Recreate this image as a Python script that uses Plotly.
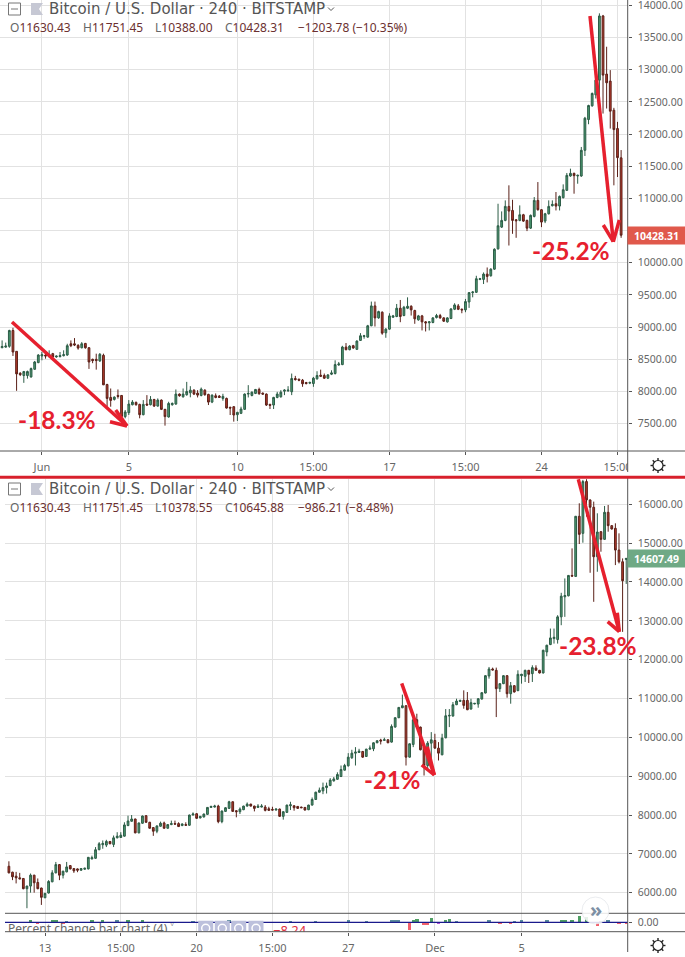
import math
import plotly.graph_objects as go

W, H = 685, 957

# ---- data ----
top_open = [8680,8690,8702,8948,8624,8284,8248,8248,8227,8346,
8449,8552,8567,8550,8588,8537,8542,8557,8567,8742,
8742,8717,8680,8747,8680,8500,8500,8475,8562,8109,
7908,7877,7939,7939,7610,7671,7795,7831,7800,7640,
7805,7795,7877,7774,7867,7723,7604,7795,7805,7960,
7918,7950,7980,8021,7975,7939,8021,7955,7836,7934,
7929,7893,7893,7754,7764,7640,7661,7723,7960,7939,
7970,8032,7975,7960,7800,7790,7908,7918,8006,8011,
7996,8202,8191,8176,8140,8130,8124,8197,8253,8248,
8207,8269,8279,8413,8418,8691,8650,8712,8655,8794,
8856,8845,9021,9330,9144,9232,8912,8969,9154,9165,
9294,9180,9294,9324,9258,9113,9175,9082,9067,9072,
9149,9180,9144,9082,9134,9278,9330,9278,9268,9391,
9536,9541,9742,9742,9824,9798,9901,10216,10554,10658,
10876,10813,10668,10658,10746,10658,10538,10720,10969,10824,
10647,10761,10886,10917,10881,11011,11125,11348,11389,11348,
11348,11747,12225,12438,12609,12837,13834,12931,12822,12370,
12085,11630]
top_high = [8794,8760,8960,8990,8624,8300,8320,8325,8372,8475,
8580,8614,8614,8640,8600,8560,8614,8640,8742,8794,
8830,8735,8768,8755,8690,8510,8588,8598,8588,8120,
8047,7925,8032,7945,7712,7867,7867,7845,7810,7867,
7944,7929,7885,7893,7877,7730,7841,7830,8032,7970,
8047,8150,8083,8035,8021,8062,8035,7965,7955,7970,
7945,7965,7905,7765,7775,7685,7764,7970,8099,8000,
8040,8060,7985,7970,7810,7918,7995,8021,8035,8083,
8279,8243,8200,8195,8150,8155,8227,8315,8340,8279,
8270,8330,8485,8459,8710,8753,8720,8725,8795,8907,
8880,9035,9397,9397,9255,9245,8985,9216,9190,9360,
9422,9330,9463,9340,9270,9190,9190,9095,9095,9155,
9206,9206,9155,9155,9295,9371,9360,9290,9438,9545,
9560,9798,9765,9850,9927,9915,10225,10917,10798,10969,
11203,10979,10680,10891,10760,10670,10750,11021,11254,10835,
10775,10969,10969,11099,11045,11218,11395,11462,11400,11370,
11799,12266,12455,12645,12931,13875,13850,13356,12993,12407,
12189,11751]
top_low = [8675,8680,8680,8552,8011,8240,8135,8200,8215,8335,
8440,8485,8510,8530,8495,8525,8530,8545,8555,8690,
8706,8650,8670,8665,8351,8440,8340,8460,8100,7764,
7764,7860,7890,7481,7584,7635,7785,7780,7584,7630,
7780,7785,7760,7765,7712,7470,7595,7780,7795,7920,
7905,7935,7910,7945,7908,7925,7935,7790,7820,7895,
7900,7857,7735,7635,7532,7542,7650,7715,7908,7925,
7960,7950,7950,7775,7728,7728,7895,7905,7944,7995,
7944,8170,8160,8073,8110,8115,8073,8185,8225,8195,
8195,8255,8265,8400,8410,8640,8640,8665,8645,8785,
8820,8835,9015,9010,9130,8882,8835,8960,9145,9155,
9077,9170,9280,9180,9052,9100,8949,8933,8949,9060,
9135,9130,9080,9070,9125,9265,9265,9216,9232,9299,
9463,9530,9730,9670,9695,9785,9890,10205,10540,10645,
10268,10450,10388,10645,10635,10492,10525,10705,10810,10554,
10616,10750,10875,10813,10813,11000,11115,11335,11073,11228,
11335,11659,12152,12425,12552,12422,12318,12396,12085,11203,
11332,10388]
top_close = [8700,8706,8948,8614,8274,8263,8310,8310,8356,8459,
8567,8572,8552,8572,8536,8550,8557,8572,8712,8712,
8722,8675,8742,8680,8459,8480,8480,8578,8104,7893,
7862,7913,7924,7610,7682,7805,7836,7795,7640,7800,
7790,7877,7774,7867,7723,7610,7815,7815,7960,7934,
7960,8001,8021,7960,7944,8037,7950,7836,7944,7908,
7908,7924,7743,7743,7635,7676,7728,7960,7970,7990,
8032,7965,7960,7790,7785,7908,7960,7990,8021,8021,
8202,8186,8176,8120,8124,8140,8207,8248,8238,8207,
8258,8289,8418,8428,8691,8650,8706,8676,8784,8866,
8866,9021,9330,9144,9242,8907,8969,9175,9175,9294,
9165,9309,9324,9268,9129,9175,9082,9067,9082,9144,
9180,9144,9093,9144,9283,9345,9278,9268,9397,9536,
9546,9752,9752,9824,9788,9901,10210,10575,10658,10876,
10803,10658,10653,10746,10647,10538,10736,10969,10824,10632,
10761,10876,10907,10881,11031,11135,11358,11389,11353,11358,
11747,12246,12443,12630,12837,13834,12915,12796,12355,12069,
11633,10428]

bot_open = [6681,6528,6426,6383,6367,6103,6171,6452,6264,6120,
5870,5992,6281,6511,6724,6452,6537,6698,6622,6613,
6579,6605,6613,6869,6886,7107,7235,7226,7320,7243,
7413,7422,7456,7728,7839,7898,7541,7788,7983,7813,
7677,7583,7711,7796,7660,7754,7779,7779,7728,7754,
7736,8000,8034,7924,7949,8017,8196,8205,8230,7830,
8094,8171,8341,8111,8086,8137,8230,8281,8230,8196,
8205,8205,8162,8145,8128,8154,7966,8068,8239,8239,
8222,8205,8196,8137,8256,8400,8588,8622,8707,8758,
8880,8920,8991,9155,9266,9473,9593,9610,9636,9507,
9696,9705,9860,9930,9923,9937,9877,10264,10505,10763,
10814,9490,9817,10455,10264,9748,9275,9851,9920,9722,
9550,9989,10548,10548,10840,10926,10952,10952,10728,10860,
10857,10986,11141,11580,11760,11726,11253,11382,11588,11124,
11330,11202,11588,11571,11726,11640,11786,11726,11657,12199,
12388,12543,12517,13102,13618,13644,14168,14143,15691,15252,
16585,16112,15923,14650,15295,15097,15794,15450,15381,14822,
14521,14580]
bot_high = [6809,6540,6537,6511,6375,6180,6494,6460,6367,6130,
5995,6324,6579,6792,6735,6565,6792,6710,6630,6625,
6635,6640,6920,6954,7175,7303,7345,7362,7330,7473,
7558,7558,7813,7983,8000,7905,7805,7985,7995,7825,
7690,7730,7830,7830,7765,7856,7856,7813,7785,7813,
8010,8068,8045,7975,8035,8205,8235,8264,8264,8115,
8200,8366,8350,8125,8196,8240,8324,8290,8240,8281,
8281,8256,8213,8213,8165,8165,8095,8265,8341,8250,
8232,8215,8205,8265,8451,8600,8707,8835,8835,8950,
8980,9100,9275,9318,9593,9680,9748,9705,9650,9705,
9791,9870,9925,9963,9990,9950,10333,10515,10780,11100,
10825,9845,10565,10608,10275,9800,9903,10135,10092,9877,
10092,10728,10728,10909,10995,10965,11210,11167,10995,10885,
11005,11160,11600,11812,11795,11795,11395,11600,11600,11425,
11340,11726,11635,11740,11735,11855,11855,11735,12255,12385,
12801,12801,13145,13721,14091,14180,14865,15700,16026,16628,
16645,16125,16069,15768,15305,15957,15983,15460,15510,15252,
14607,14610]
bot_low = [6500,6324,6239,6345,6090,5601,6001,6001,6090,5686,
5860,5980,6270,6500,6324,6367,6525,6600,6511,6528,
6565,6590,6600,6860,6875,7095,7132,7175,7250,7175,
7400,7410,7445,7715,7830,7530,7530,7775,7800,7650,
7464,7532,7700,7650,7650,7740,7755,7695,7715,7725,
7725,7990,7905,7915,7940,8005,8185,8195,7788,7788,
8085,8160,8085,7941,8026,8125,8220,8220,8094,8185,
8195,8094,8110,8118,8118,7955,7881,8058,8128,8111,
8160,8178,8118,8125,8245,8390,8575,8537,8554,8745,
8860,8910,8980,9145,9250,9447,9275,9600,9473,9495,
9685,9645,9850,9817,9910,9850,9865,10250,10495,10750,
9275,9480,9748,10250,9665,9017,9146,9232,9710,9404,
9540,9975,10264,10535,10830,10915,10737,10700,10715,10850,
10763,10975,11130,11511,11725,10522,11167,11370,11021,10866,
11155,11190,11382,11425,11399,11425,11715,11645,11645,12087,
12375,12414,12414,12887,13102,13630,14140,14130,14977,15011,
15682,14237,13489,14263,14779,15085,15295,15350,14435,14478,
12715,13950]
bot_close = [6511,6409,6383,6358,6103,6171,6452,6256,6103,5881,
5984,6290,6511,6724,6452,6554,6664,6613,6562,6579,
6622,6630,6911,6903,7107,7260,7269,7320,7260,7413,
7456,7481,7745,7847,7898,7541,7796,7975,7813,7660,
7583,7720,7788,7660,7754,7779,7766,7703,7770,7736,
8000,8026,7915,7966,8026,8196,8222,8230,7830,8103,
8188,8341,8094,8086,8154,8230,8281,8230,8171,8230,
8230,8120,8120,8128,8154,7966,8086,8256,8264,8188,
8171,8188,8128,8256,8400,8588,8639,8707,8750,8900,
8930,9043,9172,9275,9490,9593,9620,9645,9490,9696,
9722,9860,9912,9905,9937,9860,10281,10505,10771,10814,
9490,9834,10453,10264,9679,9275,9851,9937,9722,9593,
9980,10556,10565,10840,10935,10952,10823,10711,10892,10875,
10995,11150,11588,11760,11735,11253,11382,11588,11124,11330,
11167,11623,11623,11726,11623,11795,11726,11657,12242,12371,
12560,12577,13102,13635,13652,14168,14151,15691,15226,16585,
16112,15923,14650,15286,15097,15794,15450,15364,14822,14521,
14031,14607]

# percent-change histogram (bar number, percent, colour class)
pct_index = [0,6,8,12,13,15,16,23,26,30,33,37,40,46,51,56,61,78,85,
             94,99,106,107,108,111,112,113,115,116,117,119,121,122,124,127,133,136,139,140,142,
             149,153,154,156,158,159,160,161,163,164,166,167,169,171]
pct_value = [-1.6,3.2,-3.2,3.2,2.4,-3.2,1.6,3.2,3.2,2.4,3.2,3.2,-1.6,-1.6,1.6,1.6,2.4,1.6,1.6,
             2,1.6,3.2,2.4,2.4,-12.2,4,4.8,-4.8,-4.8,6.4,-2.4,3.2,4.8,1.6,-1.6,3.2,-3.2,-3.2,1.6,3.2,
             3.2,3.2,3.2,4,9.6,-1.6,8,-1.6,-6.4,1.6,3.2,-1.6,-3.2,-3.2]
pct_class = ["p","g","r","g","g","r","b","g","g","b","g","g","p","p","b","b","b","b","b",
             "b","b","b","b","b","r","g","g","r","r","g","p","g","g","b","p","b","r","r","b","b",
             "b","g","g","g","g","p","g","p","r","b","b","p","r","r"]
pct_colors = {"g": "#4f9f63", "b": "#5b8d9c", "r": "#f2606c", "p": "#b050d0"}

top_tick_pos = [11, 35, 65, 86, 107, 128, 149, 170]
top_tick_text = ["Jun", "5", "10", "15:00", "17", "15:00", "24", "15:00"]
bot_tick_pos = [10, 31, 52, 73, 94, 118, 142]
bot_tick_text = ["13", "15:00", "20", "15:00", "27", "Dec", "5"]
top_price_ticks = list(range(7500, 14001, 500))
top_price_hidden = [10500]  # covered by the last-price tag in the screenshot
bot_price_ticks = list(range(6000, 16001, 1000))

# ---- style / layout constants ----
AXIS_X = 627.7
TOP_BOTTOM = 451
BOT_TOP, BOT_BOTTOM, IND_BOTTOM = 478.5, 913.3, 931.7
PLEFT = 5
GRID = "#e2e2e2"
AXC = "#555555"
TXT = "#666666"
RED = "#e6202e"
SANS = "Noto Sans"

def px(v): return v / W
def py(v): return 1 - v / H
def bar_x(p): return (p - 45) / 3.61 + 10
def pct_y(p): return -(p - 922.3) * 1.6

common_up = dict(line=dict(color="#2c5c46", width=1), fillcolor="#4c9a72")
common_dn = dict(line=dict(color="#5a2018", width=1), fillcolor="#b5392c")

fig = go.Figure()
fig.add_trace(go.Candlestick(x=list(range(len(top_open))), open=top_open, high=top_high, low=top_low,
                             close=top_close, increasing=common_up, decreasing=common_dn,
                             whiskerwidth=0, xaxis="x", yaxis="y", showlegend=False, hoverinfo="skip"))
fig.add_trace(go.Candlestick(x=list(range(len(bot_open))), open=bot_open, high=bot_high, low=bot_low,
                             close=bot_close, increasing=common_up, decreasing=common_dn,
                             whiskerwidth=0, xaxis="x2", yaxis="y2", showlegend=False, hoverinfo="skip"))
fig.add_trace(go.Bar(x=pct_index, y=pct_value, marker=dict(color=[pct_colors[c] for c in pct_class], line_width=0),
                     width=0.95, xaxis="x3", yaxis="y3", showlegend=False, hoverinfo="skip"))
# zero line of indicator
fig.add_trace(go.Scatter(x=[-2, 172], y=[0, 0], mode="lines", line=dict(color="#1a1a8c", width=1.3),
                         xaxis="x3", yaxis="y3", showlegend=False, hoverinfo="skip"))
# indicator legend (clipped by the pane, as in the screenshot)
btn_px = [205.7, 222.3, 238.7, 256.0]
fig.add_trace(go.Scatter(x=[bar_x(p) for p in btn_px], y=[pct_y(928.3)] * 4, mode="markers",
                         marker=dict(symbol="square", size=15, color="#bcc0dc"),
                         xaxis="x3", yaxis="y3", showlegend=False, hoverinfo="skip"))
fig.add_trace(go.Scatter(x=[bar_x(p) for p in btn_px], y=[pct_y(928.3)] * 4, mode="markers",
                         marker=dict(symbol="circle-open", size=8, color="#ffffff", line=dict(width=1.5, color="#ffffff")),
                         xaxis="x3", yaxis="y3", showlegend=False, hoverinfo="skip"))
fig.add_trace(go.Scatter(x=[bar_x(8), bar_x(273)], y=[pct_y(930.5), pct_y(932)], mode="text",
                         text=["Percent change bar chart (4) \u02c5", "\u22128.24"],
                         textposition="middle right", cliponaxis=True,
                         textfont=dict(family=SANS, size=[12, 13], color=[TXT, "#e03040"]),
                         xaxis="x3", yaxis="y3", showlegend=False, hoverinfo="skip"))

shapes = []
def line(x0, y0, x1, y1, color, width):
    shapes.append(dict(type="line", xref="paper", yref="paper", x0=px(x0), x1=px(x1), y0=py(y0), y1=py(y1),
                       line=dict(color=color, width=width), layer="above"))
def rect(x0, y0, x1, y1, fill, lc=None, lw=0):
    shapes.append(dict(type="rect", xref="paper", yref="paper", x0=px(x0), x1=px(x1), y0=py(y0), y1=py(y1),
                       fillcolor=fill, line=dict(color=lc or fill, width=lw), layer="above"))

# clip the last time label at the axis
rect(AXIS_X, 452, 685, 476, "#ffffff")
rect(AXIS_X, 932.5, 685, 957, "#ffffff")
# pane frames
line(0, TOP_BOTTOM, 685, TOP_BOTTOM, AXC, 1)
line(PLEFT, BOT_BOTTOM, 685, BOT_BOTTOM, AXC, 1)
line(PLEFT, IND_BOTTOM, 685, IND_BOTTOM, AXC, 1)
line(AXIS_X, 0, AXIS_X, 472, AXC, 1)
line(AXIS_X, 478, AXIS_X, 952, AXC, 1)
# red separator
line(0, 477.3, 685, 477.3, "#d8202c", 3)

# hand-drawn arrows: shaft, barb, barb
arrows_shaft = [(12, 322, 127, 426), (590, 16, 613.3, 241.7), (401.7, 683.3, 434.3, 775), (578.3, 479.3, 619.3, 631.7)]
arrows_barb_a = [(110, 421.7), (603.3, 225), (421.7, 765), (607.7, 621.7)]
arrows_barb_b = [(115.7, 410), (619.3, 220), (427.3, 746.7), (617.3, 612.7)]
for (x0, y0, x1, y1), a, b in zip(arrows_shaft, arrows_barb_a, arrows_barb_b):
    line(x0, y0, x1, y1, RED, 3.5)
    line(a[0], a[1], x1, y1, RED, 3.5)
    line(b[0], b[1], x1, y1, RED, 3.5)

# header icons and title chevrons
for oy2 in (3, 483):
    rect(8.5, oy2, 20.5, oy2 + 12, "#ffffff", "#777777", 1)
    line(11, oy2 + 6, 18, oy2 + 6, "#777777", 1)
    shapes.append(dict(type="path", xref="paper", yref="paper", layer="above", fillcolor="#c6c8d4",
                       line=dict(width=0),
                       path=f"M {px(31)} {py(oy2)} L {px(43)} {py(oy2)} L {px(39)} {py(oy2+6)} L {px(43)} {py(oy2+12)} L {px(31)} {py(oy2+12)} Z"))
    line(328, oy2 + 4.5, 331, oy2 + 7.5, "#555555", 1)
    line(331, oy2 + 7.5, 334, oy2 + 4.5, "#555555", 1)

# settings gears
for cy in (465.5, 945.5):
    cx = 658
    shapes.append(dict(type="circle", xref="paper", yref="paper", layer="above",
                       x0=px(cx - 5), x1=px(cx + 5), y0=py(cy + 5), y1=py(cy - 5),
                       fillcolor="#ffffff", line=dict(color="#222222", width=1.2)))
    for k in range(8):
        t = k * math.pi / 4
        line(cx + 5 * math.cos(t), cy + 5 * math.sin(t), cx + 7.5 * math.cos(t), cy + 7.5 * math.sin(t), "#222222", 1.4)

# » button
shapes.append(dict(type="circle", xref="paper", yref="paper", layer="above", x0=px(582), x1=px(609), y0=py(897), y1=py(924),
                   fillcolor="rgba(255,255,255,0.85)", line=dict(color="rgba(225,228,232,0.7)", width=1)))

ann = []
def text(x, y, s, size=12, color=TXT, anchor="left", family=SANS, bold=False, **kw):
    ann.append(dict(xref="paper", yref="paper", x=px(x), y=py(y), text=f"<b>{s}</b>" if bold else s, showarrow=False,
                    xanchor=anchor, yanchor="middle", font=dict(family=family, size=size, color=color), **kw))

VAL = "#6b3030"
def ohlc(y, o, h, l, c, chg, pc):
    lab = lambda k, v: f'<span style="color:{TXT}">{k}</span><span style="color:{VAL}">{v}</span>'
    text(8, y, lab("O", o), 12)
    text(81, y, lab("H", h), 12)
    text(153, y, lab("L", l), 12)
    text(223, y, lab("C", c), 12)
    text(296, y, f'<span style="color:{VAL}">{chg} ({pc})</span>', 12)

for y in (9, 489):
    text(47, y, "Bitcoin / U.S. Dollar \u00b7 240 \u00b7 BITSTAMP", 15, "#555555", family="DejaVu Sans")
ohlc(27.5, "11630.43", "11751.45", "10388.00", "10428.31", "\u22121203.78", "\u221210.35%")
ohlc(507.5, "11630.43", "11751.45", "10378.55", "10645.88", "\u2212986.21", "\u22128.48%")

# percentages
text(57.5, 419, "-18.3%", 24.5, RED, "center", "Lato", True)
text(570.5, 250, "-25.2%", 24.5, RED, "center", "Lato", True)
text(392, 779, "-21%", 24, RED, "center", "Lato", True)
text(597.5, 645.7, "-23.8%", 24.5, RED, "center", "Lato", True)

# price tags
ann.append(dict(xref="paper", yref="paper", x=px(656.5), y=py(235.5), text="<b>10428.31</b>", showarrow=False,
                width=57, height=17, bgcolor="#e0594b", borderpad=0, xanchor="center", yanchor="middle",
                font=dict(family=SANS, size=10.5, color="#ffffff")))
ann.append(dict(xref="paper", yref="paper", x=px(656.5), y=py(558.5), text="<b>14607.49</b>", showarrow=False,
                width=57, height=17, bgcolor="#6fa985", borderpad=0, xanchor="center", yanchor="middle",
                font=dict(family=SANS, size=10.5, color="#ffffff")))

text(595.5, 909, "\u00bb", 20, "#7d90a4", "center", SANS, True)

def xaxis_kw(domain, rng, pos, labels, anchor, show):
    return dict(domain=domain, range=rng, anchor=anchor, type="linear", tickmode="array",
                tickvals=pos, ticktext=labels if show else [""] * len(labels),
                showgrid=True, gridcolor=GRID, gridwidth=1, zeroline=False, showline=False,
                ticks="outside" if show else "", ticklen=3, tickcolor=AXC, ticklabelstandoff=3,
                tickfont=dict(family=SANS, size=11, color=TXT), rangeslider=dict(visible=False), fixedrange=True)

def yaxis_kw(domain, rng, ticks, anchor, hidden=(), **kw):
    d = dict(domain=domain, range=rng, anchor=anchor, side="right", tickmode="array", tickvals=ticks,
             ticktext=["" if t in hidden else f"{t:.2f}" for t in ticks],
             showgrid=True, gridcolor=GRID, gridwidth=1, zeroline=False, showline=False,
             ticks="outside", ticklen=3, tickcolor=AXC, ticklabelstandoff=4, ticklabeloverflow="allow",
             tickfont=dict(family=SANS, size=10.5, color=TXT), fixedrange=True)
    d.update(kw)
    return d

top_x_rng = [-2.1 / 3.62, (AXIS_X - 2.1) / 3.62]
bot_x_rng = [bar_x(PLEFT), bar_x(AXIS_X)]

fig.update_layout(
    width=W, height=H, margin=dict(l=0, r=0, t=0, b=0), autosize=False,
    paper_bgcolor="#ffffff", plot_bgcolor="#ffffff", showlegend=False, bargap=0,
    template=None,
    xaxis=xaxis_kw([0, px(AXIS_X)], top_x_rng, top_tick_pos, top_tick_text, "y", True),
    yaxis=yaxis_kw([py(TOP_BOTTOM), 1], [7076, 14082], top_price_ticks, "x", hidden=top_price_hidden),
    xaxis2=xaxis_kw([px(PLEFT), px(AXIS_X)], bot_x_rng, bot_tick_pos, bot_tick_text, "y2", False),
    yaxis2=yaxis_kw([py(BOT_BOTTOM), py(BOT_TOP)], [5470, 16664], bot_price_ticks, "x2"),
    xaxis3=xaxis_kw([px(PLEFT), px(AXIS_X)], bot_x_rng, bot_tick_pos, bot_tick_text, "y3", True),
    yaxis3=yaxis_kw([py(IND_BOTTOM), py(BOT_BOTTOM)], [pct_y(IND_BOTTOM), pct_y(BOT_BOTTOM)], [0], "x3", showgrid=False),
    shapes=shapes, annotations=ann,
)

fig.write_html("out.html", config=dict(displayModeBar=False),
               post_script="document.body.style.margin='0';document.documentElement.style.overflow='hidden';")
